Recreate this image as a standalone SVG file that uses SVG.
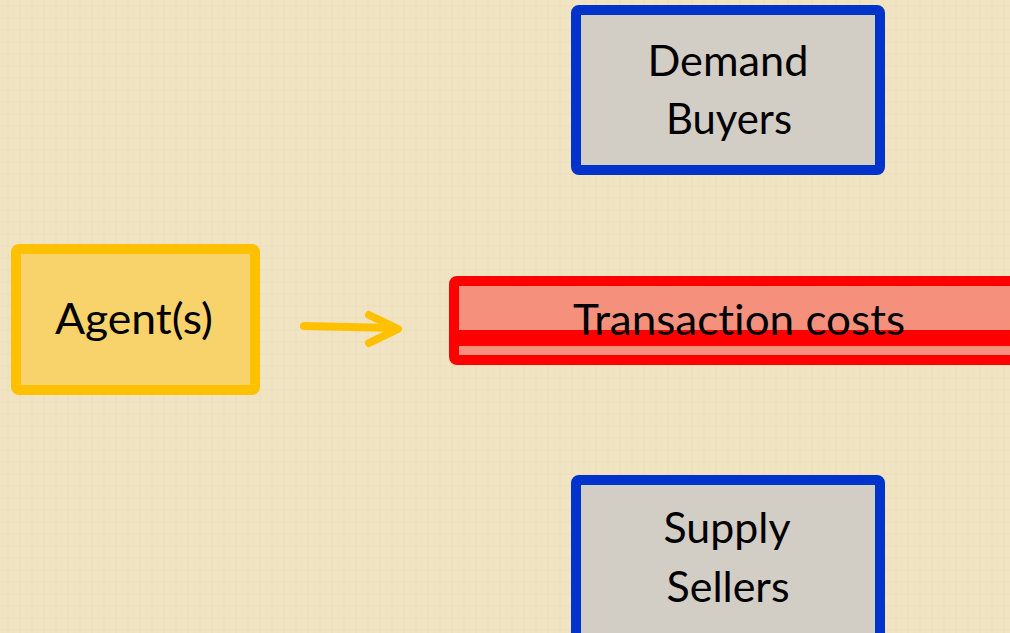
<svg xmlns="http://www.w3.org/2000/svg" width="1010" height="633" viewBox="0 0 1010 633">
<defs>
<style>
.t{font-family:Lato,"Open Sans","Liberation Sans",sans-serif;font-size:42px;fill:#000;text-anchor:middle;font-variant-ligatures:none;font-feature-settings:"liga" 0}
.blue{fill:#D2CEC6;stroke:#0033CC;stroke-width:10}
</style>
<pattern id="tex" width="24" height="24" patternUnits="userSpaceOnUse">
<rect width="24" height="24" fill="#F1E4C3"/>
<path d="M0 6H24M0 18H24" stroke="#E6D6AE" stroke-width="1" opacity="0.5"/>
<path d="M8 0V24M20 0V24" stroke="#E6D6AE" stroke-width="1" opacity="0.4"/>
</pattern>
</defs>
<rect width="1010" height="633" fill="url(#tex)"/>
<g id="connectors">
<path d="M304 326 L394 328" fill="none" stroke="#FFC000" stroke-width="8" stroke-linecap="round"/>
<path d="M369 315 L398 329 L369 343" fill="none" stroke="#FFC000" stroke-width="8" stroke-linecap="round" stroke-linejoin="round"/>
</g>
<g id="demand">
<rect class="blue" x="576" y="10" width="304" height="160" rx="3"/>
<text class="t" x="728" y="76" textLength="161" lengthAdjust="spacingAndGlyphs">Demand</text>
<text class="t" x="729" y="134" textLength="126" lengthAdjust="spacingAndGlyphs">Buyers</text>
</g>
<g id="agent">
<rect x="16" y="249" width="239" height="141" rx="3" fill="#F8D26A" stroke="#FFC000" stroke-width="10"/>
<text class="t" x="134" y="334" textLength="158" lengthAdjust="spacingAndGlyphs">Agent(s)</text>
</g>
<g id="transaction">
<rect x="454" y="281" width="580" height="79" rx="3" fill="#F4907C" stroke="#FF0000" stroke-width="10"/>
<rect x="454" y="330" width="580" height="16" fill="#FF0000"/>
<text class="t" x="739" y="335" textLength="332" lengthAdjust="spacingAndGlyphs">Transaction costs</text>
</g>
<g id="supply">
<rect class="blue" x="576" y="480" width="304" height="170" rx="3"/>
<text class="t" x="727" y="543" textLength="127" lengthAdjust="spacingAndGlyphs">Supply</text>
<text class="t" x="728" y="602" textLength="123" lengthAdjust="spacingAndGlyphs">Sellers</text>
</g>
</svg>
